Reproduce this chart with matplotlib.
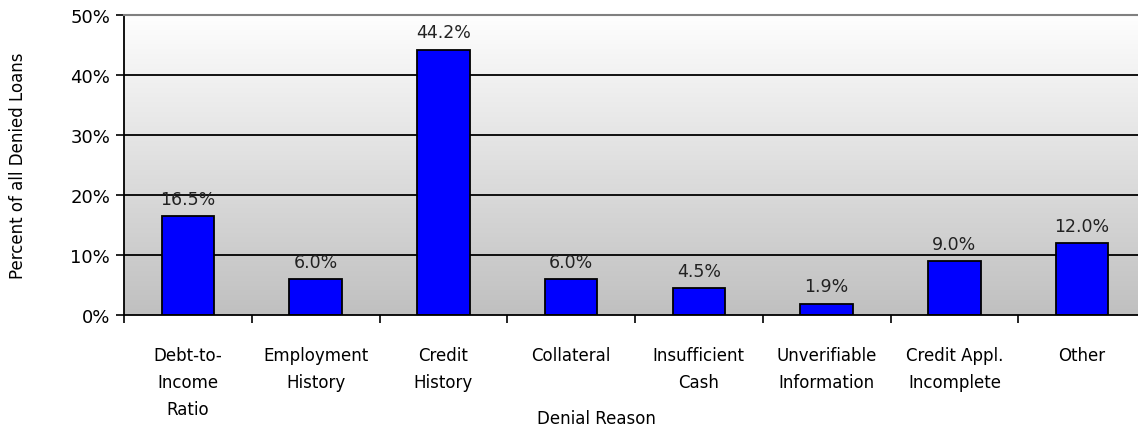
import numpy as np
from matplotlib import pyplot as plt
from matplotlib.ticker import PercentFormatter

reasons = ["Debt-to-\nIncome\nRatio", "Employment\nHistory", "Credit\nHistory",
           "Collateral", "Insufficient\nCash", "Unverifiable\nInformation",
           "Credit Appl.\nIncomplete", "Other"]
percents = [16.5, 6.0, 44.2, 6.0, 4.5, 1.9, 9.0, 12.0]
y_ticks = [0, 10, 20, 30, 40, 50]

fig = plt.figure(figsize=(11.38, 4.31), dpi=100)
# plot area runs a little past the right edge, as in the original
ax = fig.add_axes([124 / 1138, 1 - 316 / 431, 1022 / 1138, 300 / 431])

x = np.arange(len(reasons))
ax.set_xlim(-0.5, len(reasons) - 0.5)
ax.set_ylim(0, 50)

# gradient background, white at top to grey at bottom
grad = np.linspace(0, 1, 256).reshape(-1, 1)
ax.imshow(grad, extent=[-0.5, len(reasons) - 0.5, 0, 50], aspect="auto",
          cmap=plt.matplotlib.colors.LinearSegmentedColormap.from_list(
              "bg", ["#c0c0c0", "#fefefe"]),
          origin="lower", zorder=0)

for t in y_ticks[1:-1]:
    ax.axhline(t, color="black", lw=1.3, zorder=1)

bars = ax.bar(x, percents, width=0.41, color="#0000ff", edgecolor="black",
              linewidth=1.3, zorder=2)
ax.bar_label(bars, labels=[f"{p:.1f}%" for p in percents], padding=6,
             fontsize=12.5, color="#222222")

ax.set_yticks(y_ticks)
ax.yaxis.set_major_formatter(PercentFormatter(decimals=0))
ax.tick_params(axis="y", labelsize=13, length=6, width=1.2, direction="out", pad=4)

ax.set_xticks(x)
ax.set_xticklabels(reasons, fontsize=12, linespacing=1.65)
ax.set_xticks(np.arange(len(reasons) + 1) - 0.5, minor=True)
ax.tick_params(axis="x", which="major", length=0, pad=22)
ax.tick_params(axis="x", which="minor", length=6, width=1.2)

ax.spines["top"].set_color("#808080")
ax.spines["top"].set_linewidth(1.5)
ax.spines["right"].set_visible(False)
ax.spines["left"].set_linewidth(1.3)
ax.spines["bottom"].set_linewidth(1.3)

ax.set_xlabel("Denial Reason", fontsize=12)
ax.set_ylabel("Percent of all Denied Loans", fontsize=12)
ax.yaxis.set_label_coords(-0.095, 0.5)
ax.xaxis.set_label_coords(0.462, -0.315)

fig.savefig("out.png", dpi=100)
